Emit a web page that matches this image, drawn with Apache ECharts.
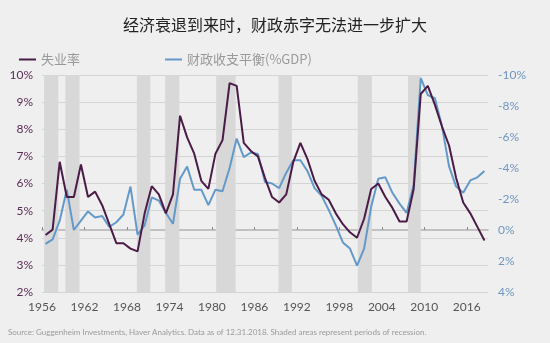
<!DOCTYPE html>
<html>
<head>
<meta charset="utf-8">
<script src="https://cdn.jsdelivr.net/npm/echarts@6/dist/echarts.min.js"></script>
<style>
html,body{margin:0;padding:0;background:#efefef;}
#c{width:550px;height:343px;}
</style>
</head>
<body>
<div id="c"></div>
<script>
const years = [1956,1957,1958,1959,1960,1961,1962,1963,1964,1965,1966,1967,1968,1969,1970,1971,1972,1973,1974,1975,1976,1977,1978,1979,1980,1981,1982,1983,1984,1985,1986,1987,1988,1989,1990,1991,1992,1993,1994,1995,1996,1997,1998,1999,2000,2001,2002,2003,2004,2005,2006,2007,2008,2009,2010,2011,2012,2013,2014,2015,2016,2017,2018];
const unemployment = [4.1,4.3,6.8,5.5,5.5,6.7,5.5,5.7,5.2,4.5,3.8,3.8,3.6,3.5,4.9,5.9,5.6,4.9,5.6,8.5,7.7,7.1,6.1,5.8,7.1,7.6,9.7,9.6,7.5,7.2,7.0,6.2,5.5,5.3,5.6,6.8,7.5,6.9,6.1,5.6,5.4,4.9,4.5,4.2,4.0,4.7,5.8,6.0,5.5,5.1,4.6,4.6,5.8,9.3,9.6,8.9,8.1,7.4,6.2,5.3,4.9,4.4,3.9];
const fiscalBalance = [0.9,0.6,-0.6,-2.6,0.0,-0.6,-1.2,-0.8,-0.9,-0.2,-0.5,-1.0,-2.8,0.3,-0.3,-2.1,-1.9,-1.1,-0.4,-3.3,-4.1,-2.6,-2.6,-1.6,-2.6,-2.5,-4.0,-5.9,-4.7,-5.0,-4.9,-3.1,-3.0,-2.7,-3.7,-4.5,-4.5,-3.8,-2.7,-2.2,-1.3,-0.3,0.8,1.2,2.3,1.2,-1.5,-3.3,-3.4,-2.4,-1.7,-1.1,-2.9,-9.8,-8.7,-8.5,-6.7,-4.1,-2.8,-2.4,-3.2,-3.4,-3.8];
const recessions = [[1956.3,1958.3],[1959.3,1961.3],[1969.4,1971.3],[1973.4,1975.4],[1980.6,1983.35],[1989.4,1991.3],[2000.6,2002.6],[2007.7,2009.5]];
const xTicks = {min:1956, max:2019, interval:6};
const leftTicks = {min:2, max:10, interval:1};
const rightTicks = {min:-10, max:4, interval:2};
const titleText = '经济衰退到来时，财政赤字无法进一步扩大';
const seriesNames = ['失业率','财政收支平衡(%GDP)'];
const sourceText = 'Source: Guggenheim Investments, Haver Analytics. Data as of 12.31.2018. Shaded areas represent periods of recession.';

const FONT = '"Noto Sans CJK SC", "Noto Sans", sans-serif';
const LAT = 'Lato, "Open Sans", sans-serif';
const PURPLE = '#4b1b47';
const BLUE = '#6399c9';

const chart = echarts.init(document.getElementById('c'), null, {renderer:'canvas'});
chart.setOption({
  backgroundColor:'#efefef',
  animation:false,
  title:{
    text:titleText, left:'center', top:12,
    textStyle:{fontFamily:FONT, fontSize:16, fontWeight:'normal', color:'#222'}
  },
  legend:[
    {data:[seriesNames[0]], left:14, top:48, icon:'rect', itemWidth:17, itemHeight:2, itemGap:6,
     textStyle:{fontFamily:FONT, fontSize:13, color:'#999'}},
    {data:[seriesNames[1]], left:160, top:48, icon:'rect', itemWidth:17, itemHeight:2, itemGap:6,
     textStyle:{fontFamily:FONT, fontSize:13, color:'#999'}}
  ],
  grid:{left:42, right:62, top:75, bottom:51},
  xAxis:{
    type:'value', min:xTicks.min, max:xTicks.max, interval:xTicks.interval,
    axisLine:{show:true, lineStyle:{color:'#b3b3b3', width:1.5}},
    axisTick:{show:true, inside:true, length:3, lineStyle:{color:'#8a8a8a'}},
    axisLabel:{formatter:v=>String(v), fontFamily:LAT, fontSize:12, color:'#555', margin:9},
    splitLine:{show:false}
  },
  yAxis:[
    {type:'value', position:'left', min:leftTicks.min, max:leftTicks.max, interval:leftTicks.interval,
     axisLine:{show:false}, axisTick:{show:false},
     axisLabel:{formatter:'{value}%', fontFamily:LAT, fontSize:12, color:'#5a2c55', margin:9},
     splitLine:{show:true, lineStyle:{color:'#d4d4d4', width:1}}},
    {type:'value', position:'right', inverse:true, min:rightTicks.min, max:rightTicks.max, interval:rightTicks.interval,
     axisLine:{show:false}, axisTick:{show:false},
     axisLabel:{formatter:'{value}%', fontFamily:LAT, fontSize:12, color:'#7096c0', margin:10},
     splitLine:{show:false}}
  ],
  series:[
    {name:seriesNames[0], type:'line', yAxisIndex:0, showSymbol:false, symbol:'none',
     data:years.map((y,i)=>[y+0.5, unemployment[i]]),
     lineStyle:{color:PURPLE, width:2}, itemStyle:{color:PURPLE}, z:3,
     markArea:{silent:true, itemStyle:{color:'#d8d8d8'},
       data:recessions.map(r=>[{xAxis:r[0]},{xAxis:r[1]}])}},
    {name:seriesNames[1], type:'line', yAxisIndex:1, showSymbol:false, symbol:'none',
     data:years.map((y,i)=>[y+0.5, fiscalBalance[i]]),
     lineStyle:{color:BLUE, width:2}, itemStyle:{color:BLUE}, z:2}
  ],
  graphic:[
    {type:'text', left:8, top:328,
     style:{text:sourceText, fontFamily:LAT, fontSize:8, fill:'#9a9a9a'}}
  ]
});
</script>
</body>
</html>
